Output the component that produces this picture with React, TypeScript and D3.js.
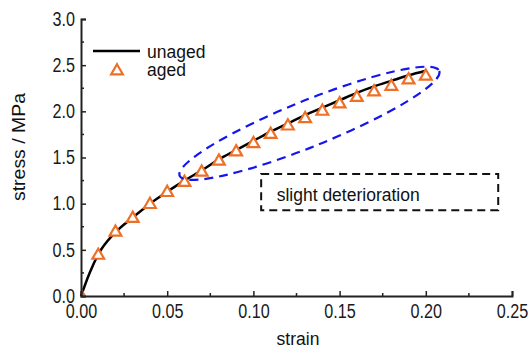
import React, { useEffect, useRef } from 'react';
import * as d3 from 'd3';

// unaged curve (solid line)
const unagedStrain = [0, 0.005, 0.01, 0.02, 0.03, 0.04, 0.05, 0.06, 0.07, 0.08, 0.09, 0.1, 0.11, 0.12, 0.13, 0.14, 0.15, 0.16, 0.17, 0.18, 0.19, 0.2];
const unagedStress = [0, 0.25, 0.45, 0.69, 0.85, 1.0, 1.13, 1.25, 1.36, 1.48, 1.58, 1.68, 1.78, 1.87, 1.96, 2.04, 2.12, 2.2, 2.27, 2.33, 2.39, 2.44];

// aged (triangles)
const agedStrain = [0, 0.01, 0.02, 0.03, 0.04, 0.05, 0.06, 0.07, 0.08, 0.09, 0.1, 0.11, 0.12, 0.13, 0.14, 0.15, 0.16, 0.17, 0.18, 0.19, 0.2];
const agedStress = [0, 0.44, 0.69, 0.84, 0.99, 1.12, 1.23, 1.34, 1.46, 1.56, 1.65, 1.75, 1.84, 1.92, 2.0, 2.08, 2.15, 2.21, 2.27, 2.34, 2.38];

const xTicks = [0, 0.05, 0.1, 0.15, 0.2, 0.25];
const yTicks = [0, 0.5, 1.0, 1.5, 2.0, 2.5, 3.0];
const xMinor = [0.025, 0.075, 0.125, 0.175, 0.225];
const yMinor = [0.25, 0.75, 1.25, 1.75, 2.25, 2.75];

const FONT = "'Liberation Sans', Arial, sans-serif";
const ORANGE = '#ee7027';

const App = () => {
  const chartRef = useRef<SVGSVGElement>(null);

  useEffect(() => {
    const svg = d3.select(chartRef.current);
    svg.selectAll('*').remove();

    const x = d3.scaleLinear().domain([0, 0.25]).range([81, 512]);
    const y = d3.scaleLinear().domain([0, 3]).range([296, 19]);

    svg.append('defs').append('clipPath').attr('id', 'plotClip')
      .append('rect').attr('x', 82).attr('y', 0).attr('width', 447).attr('height', 295);

    // unaged line
    const line = d3.line<number>()
      .x((d, i) => x(unagedStrain[i]))
      .y(d => y(d))
      .curve(d3.curveMonotoneX);
    svg.append('path').datum(unagedStress).attr('d', line)
      .attr('fill', 'none').attr('stroke', '#000').attr('stroke-width', 2.5);

    // aged triangles
    const tri = d3.symbol().type(d3.symbolTriangle).size(60);
    svg.append('g').attr('clip-path', 'url(#plotClip)')
      .selectAll('path').data(agedStress).enter().append('path')
      .attr('d', tri)
      .attr('transform', (d, i) => `translate(${x(agedStrain[i])},${y(d)})`)
      .attr('fill', '#fff').attr('stroke', ORANGE).attr('stroke-width', 2.2);

    // axes (ticks point inward)
    const gx = svg.append('g').attr('transform', 'translate(0,296)')
      .call(d3.axisBottom(x).tickValues(xTicks).tickSize(-5).tickFormat(d3.format('.2f')));
    const gy = svg.append('g').attr('transform', 'translate(81,0)')
      .call(d3.axisLeft(y).tickValues(yTicks).tickSize(-5).tickFormat(d3.format('.1f')));

    [gx, gy].forEach(g => {
      g.select('.domain').attr('stroke', '#222').attr('stroke-width', 2);
      g.selectAll('.tick line').attr('stroke', '#222').attr('stroke-width', 1.5);
      g.selectAll('.tick text').attr('font-family', FONT).attr('font-size', 19.5).attr('fill', '#1a1a1a')
        .attr('transform', 'scale(0.83,1)');
    });
    gx.selectAll('.tick text').attr('dy', 0).attr('y', 22);
    gy.selectAll('.tick text').attr('x', -7.2).attr('dy', '0.32em');

    svg.append('g').selectAll('line').data(xMinor).enter().append('line')
      .attr('x1', d => x(d)).attr('x2', d => x(d)).attr('y1', 296).attr('y2', 293)
      .attr('stroke', '#222').attr('stroke-width', 1.5);
    svg.append('g').selectAll('line').data(yMinor).enter().append('line')
      .attr('y1', d => y(d)).attr('y2', d => y(d)).attr('x1', 81).attr('x2', 84)
      .attr('stroke', '#222').attr('stroke-width', 1.5);

    // blue ellipse
    svg.append('ellipse')
      .attr('cx', 0).attr('cy', 0).attr('rx', 140).attr('ry', 23)
      .attr('transform', `translate(${x(0.1325)},${y(1.87)}) rotate(-22)`)
      .attr('fill', 'none').attr('stroke', '#1515ee').attr('stroke-width', 2.2)
      .attr('stroke-dasharray', '9,6');

    // dashed box with text
    svg.append('rect')
      .attr('x', x(0.1045)).attr('y', y(1.32)).attr('width', x(0.242) - x(0.1045)).attr('height', y(0.93) - y(1.32))
      .attr('fill', 'none').attr('stroke', '#111').attr('stroke-width', 2).attr('stroke-dasharray', '8,5');
    svg.append('text')
      .attr('x', x(0.1135)).attr('y', 201)
      .attr('font-family', FONT).attr('font-size', 17.5).attr('fill', '#111')
      .text('slight deterioration');

    // legend
    svg.append('line').attr('x1', 93).attr('x2', 140).attr('y1', 51).attr('y2', 51)
      .attr('stroke', '#000').attr('stroke-width', 2.5);
    svg.append('text').attr('x', 147).attr('y', 58)
      .attr('font-family', FONT).attr('font-size', 17.5).attr('fill', '#111').text('unaged');
    svg.append('path').attr('d', tri).attr('transform', 'translate(117,71)')
      .attr('fill', '#fff').attr('stroke', ORANGE).attr('stroke-width', 2.2);
    svg.append('text').attr('x', 147).attr('y', 76)
      .attr('font-family', FONT).attr('font-size', 17.5).attr('fill', '#111').text('aged');

    // axis titles
    svg.append('text')
      .attr('x', 298).attr('y', 345)
      .style('text-anchor', 'middle')
      .attr('font-family', FONT).attr('font-size', 17.5).attr('fill', '#111')
      .text('strain');
    svg.append('text')
      .attr('transform', 'rotate(-90)')
      .attr('x', -147).attr('y', 25)
      .style('text-anchor', 'middle')
      .attr('font-family', FONT).attr('font-size', 17.5).attr('fill', '#111')
      .attr('textLength', 108).attr('lengthAdjust', 'spacingAndGlyphs')
      .text('stress / MPa');
  }, []);

  return (
    <svg ref={chartRef} width={529} height={349}
      style={{ position: 'absolute', left: 0, top: 0, background: '#fff' }} />
  );
};

export default App;
